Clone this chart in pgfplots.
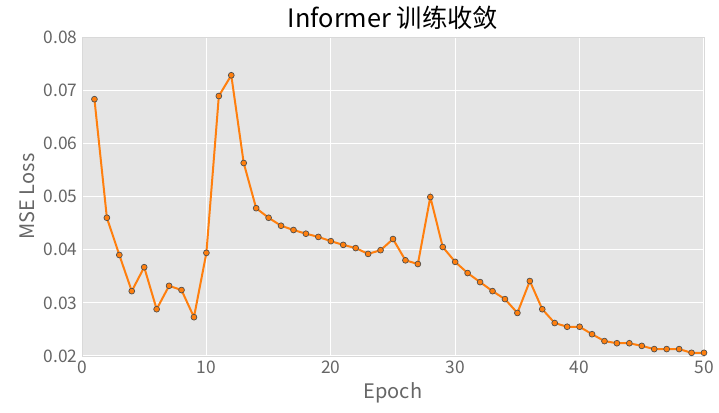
\documentclass[border=0pt]{standalone}
\usepackage{pgfplots}
\pgfplotsset{compat=1.18}
\usepackage{fontspec}
\setmainfont{Noto Sans CJK SC}
\definecolor{bg}{HTML}{E5E5E5}
\definecolor{ln}{HTML}{FF7F0E}
\begin{document}
\begin{tikzpicture}
\path[use as bounding box] (-61.5pt,-42.75pt) rectangle (477.75pt,267pt);
\begin{axis}[
scale only axis, width=466.5pt, height=239.25pt,
xmin=0, xmax=50, ymin=0.02, ymax=0.08,
axis background/.style={fill=bg},
axis line style={white!85!black},
grid=major, grid style={white, line width=0.8pt},
major tick length=0pt,
xtick={0,10,20,30,40,50},
ytick={0.02,0.03,...,0.08},
/pgf/number format/assume math mode=true,
yticklabel style={/pgf/number format/fixed,/pgf/number format/precision=2,/pgf/number format/fixed zerofill},
scaled y ticks=false,
tick label style={font=\fontsize{13}{13}\selectfont, text=black!60},
xlabel={Epoch}, ylabel={MSE Loss},
label style={font=\fontsize{15}{15}\selectfont, text=black!60},
title={Informer 训练收敛}, title style={font=\fontsize{19}{19}\selectfont, yshift=-4pt},
]
\addplot[color=ln, line width=1.5pt, mark=*, mark size=2.2pt, mark options={fill=ln, draw=black!70, line width=0.5pt}] coordinates {
(1,0.0683)(2,0.0460)(3,0.0390)(4,0.0322)(5,0.0367)(6,0.0288)(7,0.0332)(8,0.0324)(9,0.0273)(10,0.0394)
(11,0.0689)(12,0.0728)(13,0.0563)(14,0.0478)(15,0.0460)(16,0.0445)(17,0.0437)(18,0.0430)(19,0.0424)(20,0.0416)
(21,0.0409)(22,0.0403)(23,0.0392)(24,0.0399)(25,0.0420)(26,0.0380)(27,0.0373)(28,0.0499)(29,0.0405)(30,0.0377)
(31,0.0356)(32,0.0339)(33,0.0322)(34,0.0307)(35,0.0281)(36,0.0341)(37,0.0288)(38,0.0262)(39,0.0255)(40,0.0255)
(41,0.0241)(42,0.0228)(43,0.0224)(44,0.0224)(45,0.0219)(46,0.0213)(47,0.0213)(48,0.0213)(49,0.0206)(50,0.0206)};
\end{axis}
\end{tikzpicture}
\end{document}
